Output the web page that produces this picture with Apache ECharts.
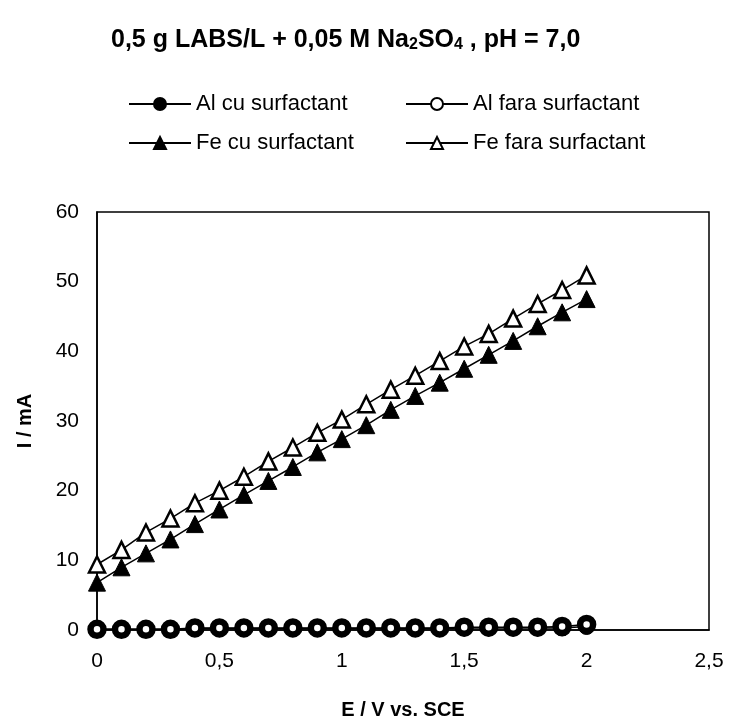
<!DOCTYPE html>
<html>
<head>
<meta charset="utf-8">
<script src="https://cdn.jsdelivr.net/npm/echarts@6/dist/echarts.min.js"></script>
<style>
  html, body { margin: 0; padding: 0; background: #fff; }
  #chart { width: 729px; height: 725px; }
</style>
</head>
<body>
<div id="chart"></div>
<script>
// potential E / V vs. SCE
var potentials = [0, 0.1, 0.2, 0.3, 0.4, 0.5, 0.6, 0.7, 0.8, 0.9, 1.0,
                  1.1, 1.2, 1.3, 1.4, 1.5, 1.6, 1.7, 1.8, 1.9, 2.0];

// current I / mA
var alCu   = [0.1, 0.1, 0.1, 0.1, 0.2, 0.2, 0.2, 0.2, 0.2, 0.2, 0.2,
              0.2, 0.2, 0.2, 0.2, 0.3, 0.3, 0.3, 0.3, 0.3, 0.5];
var alFara = [0.1, 0.1, 0.1, 0.1, 0.3, 0.3, 0.3, 0.3, 0.3, 0.3, 0.3,
              0.3, 0.3, 0.3, 0.3, 0.4, 0.4, 0.4, 0.4, 0.5, 0.8];
var feCu   = [6.8, 9.0, 11.0, 13.0, 15.2, 17.3, 19.4, 21.4, 23.4, 25.5, 27.4,
              29.4, 31.6, 33.6, 35.5, 37.5, 39.5, 41.5, 43.6, 45.6, 47.5];
var feFara = [9.4, 11.5, 14.0, 16.0, 18.2, 20.0, 22.0, 24.2, 26.2, 28.3, 30.2,
              32.4, 34.5, 36.5, 38.6, 40.7, 42.5, 44.7, 46.8, 48.8, 50.9];

var seriesNames = ['Al cu surfactant', 'Al fara surfactant', 'Fe cu surfactant', 'Fe fara surfactant'];
var xTicks = { min: 0, max: 2.5, interval: 0.5 };
var yTicks = { min: 0, max: 60, interval: 10 };

function pairs(ys) {
  return potentials.map(function (x, i) { return [x, ys[i]]; });
}
function comma(v) {
  return String(v).replace('.', ',');
}

var fontFamily = '"Liberation Sans", Arial, sans-serif';
var legendText = { color: '#000', fontSize: 22, fontFamily: fontFamily };

function legendAt(name, left, top) {
  return {
    data: [name], left: left, top: top,
    itemWidth: 62, itemHeight: 15, itemGap: 0,
    textStyle: legendText, selectedMode: false
  };
}

function lineSeries(name, ys, symbol, size, fill, border, z) {
  return {
    name: name, type: 'line', data: pairs(ys),
    symbol: symbol, symbolSize: size, showSymbol: true,
    clip: false, z: z,
    lineStyle: { color: '#000', width: 1.5 },
    itemStyle: { color: fill, borderColor: '#000', borderWidth: border }
  };
}

var chart = echarts.init(document.getElementById('chart'));
chart.setOption({
  animation: false,
  backgroundColor: '#fff',
  title: {
    text: '0,5 g LABS/L + 0,05 M Na{s|2}SO{s|4} , pH = 7,0',
    left: 106, top: 23,
    textStyle: {
      color: '#000', fontSize: 25, fontWeight: 'bold', fontFamily: fontFamily,
      rich: { s: { fontSize: 16, fontWeight: 'bold', fontFamily: fontFamily, verticalAlign: 'bottom', padding: [9, 0, 0, 0] } }
    }
  },
  legend: [
    legendAt(seriesNames[0], 123, 88),
    legendAt(seriesNames[1], 400, 88),
    legendAt(seriesNames[2], 123, 127),
    legendAt(seriesNames[3], 400, 127)
  ],
  grid: {
    left: 97, right: 20, top: 212, bottom: 93,
    show: true, borderColor: '#000', borderWidth: 1.5
  },
  xAxis: {
    type: 'value', min: xTicks.min, max: xTicks.max, interval: xTicks.interval,
    name: 'E / V vs. SCE', nameLocation: 'middle', nameGap: 70,
    nameTextStyle: { color: '#000', fontSize: 20, fontWeight: 'bold', fontFamily: fontFamily },
    axisLine: { lineStyle: { color: '#000', width: 1.5 } },
    axisTick: { show: false },
    splitLine: { show: false },
    axisLabel: { color: '#000', fontSize: 21, fontFamily: fontFamily, margin: 21, formatter: comma }
  },
  yAxis: {
    type: 'value', min: yTicks.min, max: yTicks.max, interval: yTicks.interval,
    name: 'I / mA', nameLocation: 'middle', nameGap: 62,
    nameTextStyle: { color: '#000', fontSize: 20, fontWeight: 'bold', fontFamily: fontFamily },
    axisLine: { show: true, lineStyle: { color: '#000', width: 1.5 } },
    axisTick: { show: false },
    splitLine: { show: false },
    axisLabel: { color: '#000', fontSize: 21, fontFamily: fontFamily, margin: 18, formatter: comma }
  },
  series: [
    lineSeries(seriesNames[0], alCu, 'circle', 16, '#000', 1, 2),
    lineSeries(seriesNames[1], alFara, 'circle', 13, '#fff', 6.5, 3),
    lineSeries(seriesNames[2], feCu, 'triangle', 17, '#000', 1, 4),
    lineSeries(seriesNames[3], feFara, 'triangle', 16, '#fff', 2.5, 5)
  ]
});
</script>
</body>
</html>
